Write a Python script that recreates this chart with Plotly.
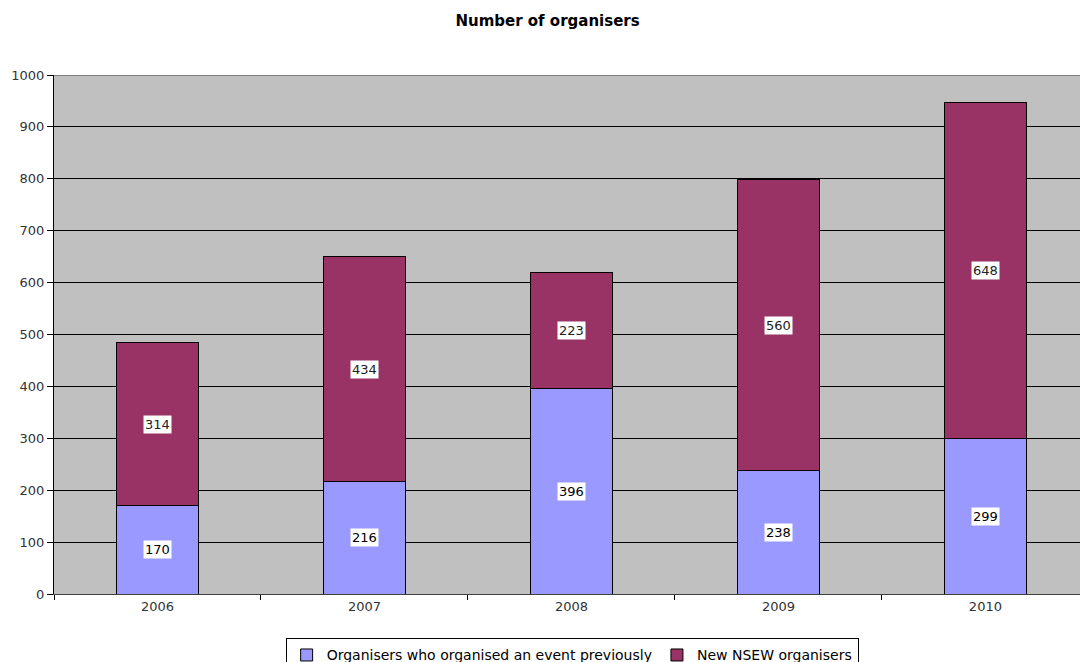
import plotly.graph_objects as go

years = ["2006", "2007", "2008", "2009", "2010"]
previous = [170, 216, 396, 238, 299]
new_nsew = [314, 434, 223, 560, 648]

FONT = "DejaVu Sans"

fig = go.Figure()
fig.add_trace(go.Bar(
    x=years, y=previous, name="Organisers who organised an event previously",
    marker=dict(color="#9999FF", line=dict(color="black", width=1)),
))
fig.add_trace(go.Bar(
    x=years, y=new_nsew, name="New NSEW organisers",
    marker=dict(color="#993366", line=dict(color="black", width=1)),
))

# value labels on white boxes in the middle of each segment
for i, yr in enumerate(years):
    fig.add_annotation(x=i, y=previous[i] / 2, xref="x", yref="y", text=str(previous[i]),
                       showarrow=False, bgcolor="white", borderpad=1,
                       font=dict(size=13, color="black", family=FONT))
    fig.add_annotation(x=i, y=previous[i] + new_nsew[i] / 2, xref="x", yref="y",
                       text=str(new_nsew[i]), showarrow=False, bgcolor="white", borderpad=1,
                       font=dict(size=13, color="#222", family=FONT))

# grey top border of the plot area
fig.add_shape(type="line", xref="paper", yref="y", x0=0, x1=1, y0=1000, y1=1000,
              line=dict(color="#808080", width=2), layer="above")

fig.update_layout(
    width=1080, height=662, autosize=False,
    margin=dict(l=54, r=0, t=75, b=68, autoexpand=False),
    paper_bgcolor="white", plot_bgcolor="#C0C0C0",
    barmode="stack", bargap=0.6,
    title=dict(text="<b>Number of organisers</b>", x=0.507, xanchor="center", y=0.968, yanchor="middle",
               font=dict(size=15, color="black", family=FONT)),
    font=dict(family=FONT, color="#333"),
    showlegend=True,
    legend=dict(orientation="h", x=0.505, xanchor="center", y=-0.0855, yanchor="top",
                bordercolor="black", borderwidth=1, bgcolor="white",
                font=dict(size=14, color="black", family=FONT),
                itemwidth=30, traceorder="normal", tracegroupgap=0),
    xaxis=dict(type="category", range=[-0.5, 4.457], tickson="boundaries", ticks="outside", ticklen=5,
               tickcolor="black", showline=True, linecolor="#404040", linewidth=1,
               showgrid=False, tickfont=dict(size=13, color="#333", family=FONT)),
    yaxis=dict(range=[0, 1000], dtick=100, ticks="outside", ticklen=6, tickcolor="black",
               showline=True, linecolor="black", linewidth=1,
               showgrid=True, gridcolor="black", gridwidth=1, zeroline=False,
               tickfont=dict(size=13, color="#333", family=FONT)),
)

fig.write_html("out.html")
